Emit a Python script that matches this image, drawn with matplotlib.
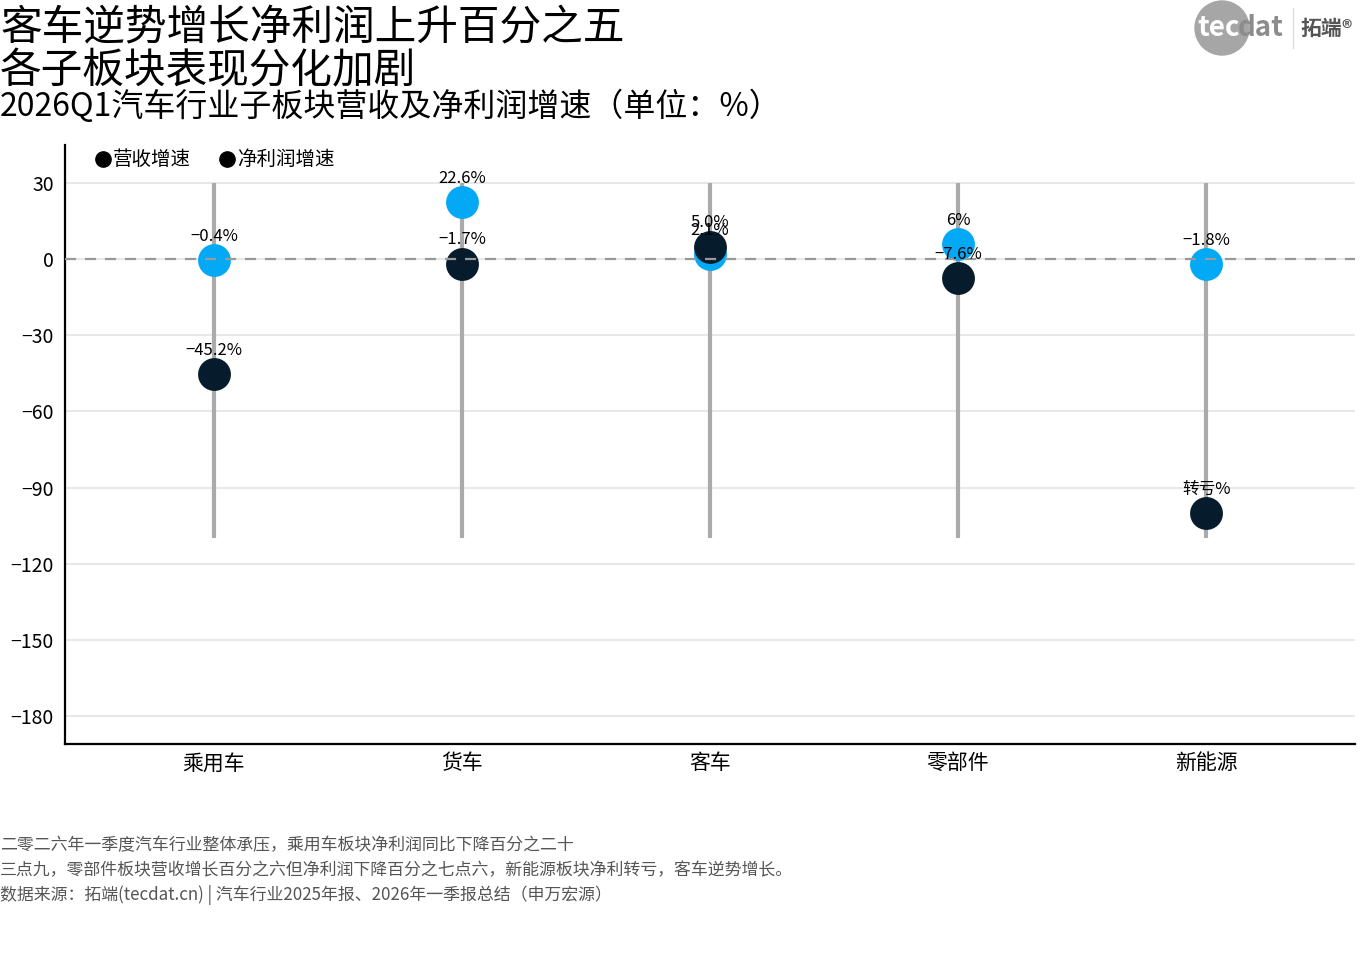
import matplotlib
matplotlib.use("Agg")
import matplotlib.pyplot as plt
from matplotlib.lines import Line2D
from matplotlib.patches import Circle

plt.rcParams['font.family'] = ['Noto Sans CJK SC', 'DejaVu Sans']
plt.rcParams['axes.unicode_minus'] = True

categories = ["乘用车", "货车", "客车", "零部件", "新能源"]
revenue_growth = [-0.4, 22.6, 2.1, 6.0, -1.8]
profit_growth = [-45.2, -1.7, 5.0, -7.6, -100.0]
revenue_labels = ["−0.4%", "22.6%", "2.1%", "6%", "−1.8%"]
profit_labels = ["−45.2%", "−1.7%", "5.0%", "−7.6%", "转亏%"]
stem_top = 30
stem_bottom = -110

BLUE = "#03A9F4"
NAVY = "#061C2C"

fig = plt.figure(figsize=(13.67, 9.57), dpi=100)
ax = fig.add_axes([0.0476, 0.2226, 0.9436, 0.6259])

x = list(range(len(categories)))

##
ax.vlines(x, stem_bottom, stem_top, color="#aaaaaa", lw=3, zorder=1)
ax.scatter(x, revenue_growth, s=560, color=BLUE, zorder=3, linewidths=0)
ax.scatter(x, profit_growth, s=560, color=NAVY, zorder=4, linewidths=0)
ax.axhline(0, color="#999999", lw=1.6, ls=(0, (5, 4)), zorder=5)

for xi, v, lab in zip(x, revenue_growth, revenue_labels):
    ax.annotate(lab, (xi, v), xytext=(0, 17), textcoords="offset points",
                ha="center", va="center", fontsize=12, zorder=6)
for xi, v, lab in zip(x, profit_growth, profit_labels):
    ax.annotate(lab, (xi, v), xytext=(0, 17), textcoords="offset points",
                ha="center", va="center", fontsize=12, zorder=6)

##
ax.set_xlim(-0.6, 4.6)
ax.set_ylim(-191, 45)
ax.set_yticks([30, 0, -30, -60, -90, -120, -150, -180])
ax.set_xticks(x)
ax.set_xticklabels(categories, fontsize=15)
ax.tick_params(axis="y", labelsize=14, length=0, pad=8)
ax.tick_params(axis="x", length=0, pad=6)
ax.grid(axis="y", color="#e8e8e8", lw=1.5, zorder=0)
ax.set_axisbelow(True)
for side in ["top", "right"]:
    ax.spines[side].set_visible(False)
ax.spines["left"].set_linewidth(1.6)
ax.spines["bottom"].set_linewidth(1.6)

handles = [Line2D([], [], marker="o", ls="none", color="black", markersize=11),
           Line2D([], [], marker="o", ls="none", color="black", markersize=11)]
ax.legend(handles, ["营收增速", "净利润增速"], loc="upper left", ncol=2,
          bbox_to_anchor=(0.008, 1.022), frameon=False, fontsize=14,
          handletextpad=0.0, columnspacing=1.4, handlelength=1.0)

##
fig.text(0.0, 0.970, "客车逆势增长净利润上升百分之五", fontsize=30, va="center", ha="left")
fig.text(0.0, 0.925, "各子板块表现分化加剧", fontsize=30, va="center", ha="left")
fig.text(0.0, 0.889, "2026Q1汽车行业子板块营收及净利润增速（单位：%）", fontsize=23,
         va="center", ha="left")

footer = ["二零二六年一季度汽车行业整体承压，乘用车板块净利润同比下降百分之二十",
          "三点九，零部件板块营收增长百分之六但净利润下降百分之七点六，新能源板块净利转亏，客车逆势增长。",
          "数据来源：拓端(tecdat.cn) | 汽车行业2025年报、2026年一季报总结（申万宏源）"]
for i, line in enumerate(footer):
    fig.text(0.0, 1 - (845 + 25 * i) / 957, line, fontsize=12.2, color="#555555",
             va="center", ha="left")

# logo
fig.patches.append(Circle((12.22, 9.29), 0.27, transform=fig.dpi_scale_trans,
                          color="#a6a6a6", zorder=0))
fig.text(1197 / 1367, 1 - 28 / 957, "tec", fontsize=20, color="white", va="center",
         ha="left", fontweight="bold")
fig.text(1238 / 1367, 1 - 28 / 957, "dat", fontsize=20, color="#8c8c8c", va="center",
         ha="left", fontweight="bold")
fig.add_artist(Line2D([1293 / 1367, 1293 / 1367], [1 - 8 / 957, 1 - 48 / 957],
                      color="#dddddd", lw=1))
fig.text(1300 / 1367, 1 - 28 / 957, "拓端®", fontsize=15, color="#555555", va="center",
         ha="left", fontweight="bold")

fig.savefig("out.png", dpi=100)
